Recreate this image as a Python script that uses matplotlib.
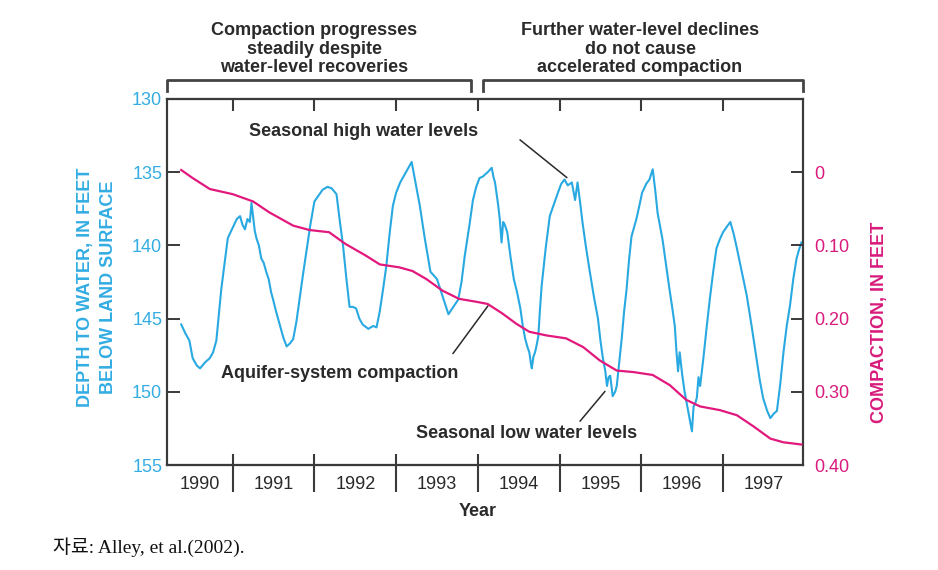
import matplotlib
matplotlib.use('Agg')
import matplotlib.pyplot as plt
from matplotlib.ticker import NullFormatter

# ---------------- data ----------------
water_year = [1990.37, 1990.42, 1990.47, 1990.51, 1990.56, 1990.60, 1990.66, 1990.72, 1990.76, 1990.80,
              1990.86, 1990.94, 1991.00, 1991.05, 1991.09, 1991.12, 1991.15, 1991.18, 1991.21, 1991.23,
              1991.27, 1991.29, 1991.32, 1991.35, 1991.38, 1991.41, 1991.44, 1991.47, 1991.49, 1991.53,
              1991.58, 1991.62, 1991.66, 1991.70, 1991.74, 1991.78, 1991.82, 1991.86, 1991.90, 1991.95,
              1992.00, 1992.05, 1992.10, 1992.16, 1992.21, 1992.27, 1992.31, 1992.35, 1992.39, 1992.43,
              1992.47, 1992.51, 1992.55, 1992.59, 1992.66, 1992.72, 1992.76, 1992.80, 1992.84, 1992.88,
              1992.92, 1992.96, 1993.00, 1993.05, 1993.12, 1993.19, 1993.24, 1993.29, 1993.35, 1993.42,
              1993.50, 1993.57, 1993.64, 1993.70, 1993.76, 1993.80, 1993.84, 1993.90, 1993.94, 1993.98,
              1994.02, 1994.06, 1994.12, 1994.17, 1994.19, 1994.21, 1994.25, 1994.27, 1994.29, 1994.31,
              1994.33, 1994.36, 1994.40, 1994.44, 1994.48, 1994.52, 1994.55, 1994.58, 1994.61, 1994.63,
              1994.65, 1994.66, 1994.68, 1994.70, 1994.72, 1994.74, 1994.76, 1994.78, 1994.83, 1994.88,
              1994.93, 1994.98, 1995.02, 1995.06, 1995.10, 1995.15, 1995.19, 1995.22, 1995.25, 1995.28,
              1995.32, 1995.37, 1995.42, 1995.47, 1995.50, 1995.53, 1995.56, 1995.58, 1995.60, 1995.62,
              1995.65, 1995.68, 1995.70, 1995.73, 1995.76, 1995.79, 1995.82, 1995.85, 1995.88, 1995.94,
              1995.98, 1996.01, 1996.06, 1996.10, 1996.14, 1996.17, 1996.20, 1996.26, 1996.30, 1996.34,
              1996.38, 1996.41, 1996.43, 1996.45, 1996.47, 1996.50, 1996.53, 1996.56, 1996.59, 1996.62,
              1996.64, 1996.66, 1996.68, 1996.70, 1996.72, 1996.76, 1996.80, 1996.84, 1996.88, 1996.92,
              1996.96, 1997.00, 1997.05, 1997.09, 1997.13, 1997.17, 1997.23, 1997.29, 1997.35, 1997.41,
              1997.45, 1997.49, 1997.54, 1997.58, 1997.62, 1997.66, 1997.70, 1997.74, 1997.78, 1997.82,
              1997.86, 1997.90, 1997.93, 1997.96]
water_depth = [145.4, 146.0, 146.5, 147.7, 148.2, 148.4, 148.0, 147.7, 147.3, 146.5,
               143.0, 139.5, 138.8, 138.2, 138.0, 138.6, 138.9, 138.2, 138.4, 137.1,
               139.0, 139.5, 140.0, 140.9, 141.2, 141.8, 142.3, 143.2, 143.6, 144.5,
               145.5, 146.3, 146.9, 146.7, 146.4, 145.2, 143.6, 142.0, 140.5, 138.6,
               137.0, 136.6, 136.2, 136.0, 136.1, 136.5, 138.3, 140.0, 142.2, 144.2,
               144.2, 144.3, 145.0, 145.4, 145.7, 145.5, 145.6, 144.5, 143.0, 141.4,
               139.2, 137.3, 136.4, 135.7, 135.0, 134.3, 135.8, 137.3, 139.5, 141.8,
               142.3, 143.5, 144.7, 144.2, 143.7, 142.5, 140.7, 138.5, 136.9, 136.0,
               135.4, 135.3, 135.0, 134.7, 135.3, 135.7, 137.3, 138.3, 139.8, 138.4,
               138.6, 139.1, 140.8, 142.3, 143.2, 144.3, 145.5, 146.4, 147.0, 147.3,
               148.1, 148.4, 147.6, 147.3, 146.8, 146.2, 144.4, 142.8, 140.2, 138.0,
               137.2, 136.4, 135.8, 135.5, 135.9, 135.7, 136.9, 135.7, 137.0, 138.4,
               140.0, 141.8, 143.5, 145.0, 146.5, 147.7, 148.6, 149.6, 149.0, 148.9,
               150.3, 150.0, 149.6, 148.0, 146.4, 144.5, 143.0, 141.0, 139.4, 138.2,
               137.2, 136.4, 135.8, 135.5, 134.8, 136.2, 137.8, 139.6, 141.2, 142.8,
               144.3, 145.5, 147.2, 148.6, 147.3, 148.8, 150.0, 150.9, 151.8, 152.7,
               151.0, 150.8, 150.4, 149.0, 149.6, 147.7, 145.6, 143.6, 141.8, 140.2,
               139.6, 139.1, 138.7, 138.4, 139.2, 140.2, 141.8, 143.4, 145.5, 147.7,
               149.2, 150.4, 151.3, 151.8, 151.5, 151.3, 149.5, 147.3, 145.5, 144.1,
               142.3, 140.9, 140.3, 139.8]

comp_year = [1990.37, 1990.51, 1990.72, 1991.00, 1991.25, 1991.45, 1991.74, 1991.94, 1992.18, 1992.38,
             1992.63, 1992.80, 1993.04, 1993.20, 1993.37, 1993.57, 1993.77, 1993.98, 1994.12, 1994.30,
             1994.47, 1994.63, 1994.84, 1995.08, 1995.29, 1995.49, 1995.70, 1995.90, 1996.14, 1996.35,
             1996.55, 1996.72, 1996.96, 1997.17, 1997.37, 1997.58, 1997.74, 1997.96]
comp_feet = [-0.003, 0.008, 0.023, 0.030, 0.040, 0.055, 0.073, 0.079, 0.082, 0.098,
             0.114, 0.126, 0.130, 0.135, 0.146, 0.162, 0.173, 0.177, 0.180, 0.193,
             0.207, 0.218, 0.223, 0.227, 0.239, 0.257, 0.271, 0.273, 0.277, 0.291,
             0.311, 0.320, 0.325, 0.332, 0.347, 0.364, 0.369, 0.372]

year_bounds = [1991, 1992, 1993, 1994, 1995, 1996, 1997]
year_labels = ['1990', '1991', '1992', '1993', '1994', '1995', '1996', '1997']
year_label_pos = [1990.6, 1991.5, 1992.5, 1993.5, 1994.5, 1995.5, 1996.5, 1997.5]
depth_ticks = [130, 135, 140, 145, 150, 155]
comp_ticks = [0.0, 0.1, 0.2, 0.3, 0.4]
comp_tick_labels = ['0', '0.10', '0.20', '0.30', '0.40']

# ---------------- style ----------------
CYAN = '#29a9e1'
CYAN_TXT = '#33ade3'
MAGENTA = '#e2187c'
MAG_TXT = '#d81b7c'
DARK = '#3a3a3a'
TXT = '#2a2a2a'

plt.rcParams['font.family'] = ['Liberation Sans', 'DejaVu Sans']

fig = plt.figure(figsize=(9.38, 5.70), dpi=100)
ax = fig.add_axes([167 / 938, 105 / 570, 636 / 938, 366 / 570])

ax.plot(water_year, water_depth, color=CYAN, lw=1.5, zorder=2)
ax.set_xlim(1990.196, 1997.979)
ax.set_ylim(155, 130)

for s in ax.spines.values():
    s.set_color(DARK)
    s.set_linewidth(1.5)

ax.set_yticks(depth_ticks)
ax.tick_params(axis='y', direction='in', length=9, width=1.4, color=DARK,
               labelcolor=CYAN_TXT, labelsize=13, pad=3.5)

ax.set_xticks(year_bounds)
ax.xaxis.set_major_formatter(NullFormatter())
ax.tick_params(axis='x', which='major', direction='out', length=19.5, width=1.5, color=DARK)
ax.set_xticks(year_label_pos, minor=True)
ax.set_xticklabels(year_labels, minor=True)
ax.tick_params(axis='x', which='minor', length=0, labelsize=13, pad=8, labelcolor=TXT)

# inward tick parts at the year boundaries (top and bottom)
sec_top = ax.secondary_xaxis('top')
sec_top.set_xticks(year_bounds)
sec_top.xaxis.set_major_formatter(NullFormatter())
sec_top.tick_params(direction='in', length=8.5, width=1.5, color=DARK)
sec_top.spines['top'].set_color(DARK)
sec_top.spines['top'].set_linewidth(1.5)
sec_bot = ax.secondary_xaxis('bottom')
sec_bot.set_xticks(year_bounds)
sec_bot.xaxis.set_major_formatter(NullFormatter())
sec_bot.tick_params(direction='in', length=8, width=1.5, color=DARK)
sec_bot.spines['bottom'].set_color(DARK)
sec_bot.spines['bottom'].set_linewidth(1.5)

ax.set_ylabel('DEPTH TO WATER, IN FEET\nBELOW LAND SURFACE', color=CYAN_TXT,
              fontsize=13, fontweight='bold', linespacing=1.53)
ax.yaxis.label.set_va('center')
ax.yaxis.set_label_coords(-0.11, 0.486)

ax.set_xlabel('Year', fontsize=13, fontweight='bold', color=TXT)
ax.xaxis.label.set_va('center')
ax.xaxis.set_label_coords(0.489, -0.126)

# compaction axis
ax2 = ax.twinx()
ax2.plot(comp_year, comp_feet, color=MAGENTA, lw=1.6, zorder=3)
ax2.set_ylim(0.40, -0.10)
ax2.set_yticks(comp_ticks)
ax2.set_yticklabels(comp_tick_labels)
ax2.tick_params(axis='y', direction='in', length=9, width=1.4, color=DARK,
                labelcolor=MAG_TXT, labelsize=13, pad=8)
for s in ax2.spines.values():
    s.set_color(DARK)
    s.set_linewidth(1.5)
ax2.set_ylabel('COMPACTION, IN FEET', color=MAG_TXT, fontsize=13, fontweight='bold')
ax2.yaxis.label.set_va('center')
ax2.yaxis.set_label_coords(1.12, 0.39)

# annotations inside the plot
ax.text(1992.607, 132.51, 'Seasonal high water levels', ha='center', va='baseline',
        fontsize=13, fontweight='bold', color=TXT)
ax.annotate('', xy=(1995.09, 135.37), xytext=(1994.516, 132.79),
            arrowprops=dict(arrowstyle='-', color=TXT, lw=1.1, shrinkA=0, shrinkB=0))
ax.text(1992.313, 149.09, 'Aquifer-system compaction', ha='center', va='baseline',
        fontsize=13, fontweight='bold', color=TXT)
ax.annotate('', xy=(1994.124, 144.13), xytext=(1993.695, 147.39),
            arrowprops=dict(arrowstyle='-', color=TXT, lw=1.1, shrinkA=0, shrinkB=0))
ax.text(1994.60, 153.17, 'Seasonal low water levels', ha='center', va='baseline',
        fontsize=13, fontweight='bold', color=TXT)
ax.annotate('', xy=(1995.556, 149.97), xytext=(1995.25, 152.01),
            arrowprops=dict(arrowstyle='-', color=TXT, lw=1.1, shrinkA=0, shrinkB=0))

# brackets and period headings above the plot
xtr = ax.get_xaxis_transform()
ax.plot([1990.196, 1990.196, 1993.92, 1993.92], [1.022, 1.052, 1.052, 1.022],
        transform=xtr, clip_on=False, color='#444444', lw=2)
ax.plot([1994.06, 1994.06, 1997.979, 1997.979], [1.022, 1.052, 1.052, 1.022],
        transform=xtr, clip_on=False, color='#444444', lw=2)

fig.text(314 / 938, 1 - 49 / 570, 'Compaction progresses\nsteadily despite\nwater-level recoveries',
         ha='center', va='center', fontsize=13, fontweight='bold', color=TXT, linespacing=1.11)
fig.text(640 / 938, 1 - 49 / 570, 'Further water-level declines\ndo not cause\naccelerated compaction',
         ha='center', va='center', fontsize=13, fontweight='bold', color=TXT, linespacing=1.11)

fig.text(53 / 938, 1 - 553 / 570, '자료: Alley, et al.(2002).', ha='left', va='baseline',
         fontsize=14, color='#111111', family=['Liberation Serif', 'Noto Sans CJK KR'])

fig.savefig('out.png', dpi=100)
